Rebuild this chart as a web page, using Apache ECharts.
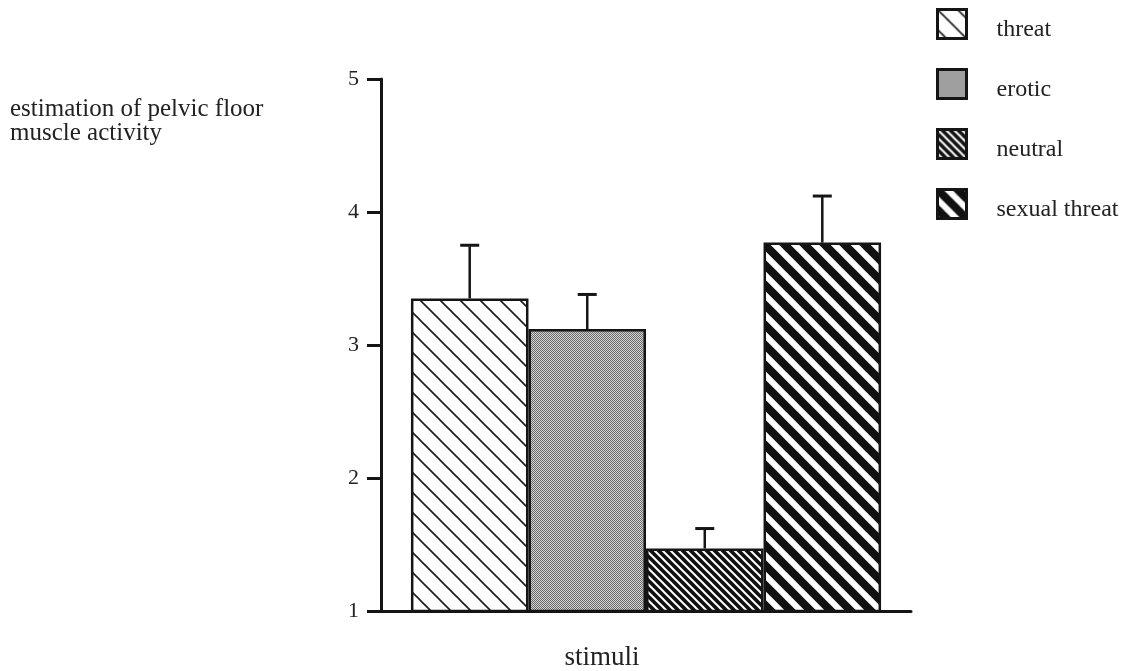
<!DOCTYPE html>
<html>
<head>
<meta charset="utf-8">
<script src="https://cdn.jsdelivr.net/npm/echarts@6/dist/echarts.min.js"></script>
<style>
html,body{margin:0;padding:0;background:#fff;}
#chart{width:1142px;height:671px;}
</style>
</head>
<body>
<div id="chart"></div>
<script>
// ---- data ----
const categories = ['stimuli'];
const seriesNames = ['threat', 'erotic', 'neutral', 'sexual threat'];
const means = [3.35, 3.12, 1.47, 3.77];
const upper = [3.75, 3.38, 1.62, 4.12];
const yTicks = [1, 2, 3, 4, 5];
const yAxisTitle = 'estimation of pelvic floor\nmuscle activity';
const xAxisTitle = 'stimuli';

// ---- patterns ----
function diagTile(size, bg, fg, lw) {
  const c = document.createElement('canvas');
  c.width = size; c.height = size;
  const g = c.getContext('2d');
  g.fillStyle = bg; g.fillRect(0, 0, size, size);
  g.strokeStyle = fg; g.lineWidth = lw; g.lineCap = 'square';
  for (let k = -size; k <= size; k += size) {
    g.beginPath(); g.moveTo(k - 2, -2); g.lineTo(k + size + 2, size + 2); g.stroke();
  }
  return c;
}
function stippleTile() {
  const c = document.createElement('canvas');
  c.width = 2; c.height = 2;
  const g = c.getContext('2d');
  g.fillStyle = '#d4d4d4'; g.fillRect(0, 0, 2, 2);
  g.fillStyle = '#6a6a6a'; g.fillRect(0, 0, 1, 1); g.fillRect(1, 1, 1, 1);
  return c;
}
const patterns = [
  { image: diagTile(20, '#ffffff', '#1a1a1a', 1.6), repeat: 'repeat' },
  { image: stippleTile(), repeat: 'repeat' },
  { image: diagTile(8, '#111111', '#ffffff', 2.0), repeat: 'repeat' },
  { image: diagTile(20, '#ffffff', '#111111', 8), repeat: 'repeat' }
];

const GAP = 0.113; // category gap fraction
const FONT = 'Liberation Serif, Times New Roman, serif';

const chart = echarts.init(document.getElementById('chart'));

const barSeries = seriesNames.map((name, i) => ({
  name: name,
  type: 'bar',
  barGap: '0%',
  barCategoryGap: (GAP * 100) + '%',
  data: [means[i]],
  itemStyle: { color: patterns[i], borderColor: '#151515', borderWidth: 2.5 },
  emphasis: { disabled: true },
  z: 2
}));

const errSeries = seriesNames.map((name, i) => ({
  name: name + ' error',
  type: 'custom',
  data: [[0, means[i], upper[i]]],
  z: 3,
  renderItem: function (params, api) {
    const band = api.size([1, 0])[0];
    const bw = band * (1 - GAP) / seriesNames.length;
    const c0 = api.coord([api.value(0), api.value(1)]);
    const c1 = api.coord([api.value(0), api.value(2)]);
    const x = c0[0] - band * (1 - GAP) / 2 + bw * (i + 0.5);
    const half = 9.5;
    return {
      type: 'group',
      children: [
        { type: 'line', shape: { x1: x, y1: c0[1], x2: x, y2: c1[1] + 1 },
          style: { stroke: '#151515', lineWidth: 2.5 } },
        { type: 'line', shape: { x1: x - half, y1: c1[1], x2: x + half, y2: c1[1] },
          style: { stroke: '#151515', lineWidth: 3 } }
      ]
    };
  }
}));

chart.setOption({
  animation: false,
  backgroundColor: '#ffffff',
  title: {
    text: yAxisTitle,
    left: 10, top: 97, padding: 0,
    textStyle: { fontFamily: FONT, fontSize: 25, fontWeight: 'normal', color: '#222', lineHeight: 24 }
  },
  legend: {
    data: seriesNames,
    orient: 'vertical',
    left: 936, top: 6, padding: 0,
    itemWidth: 29, itemHeight: 29, itemGap: 24,
    icon: 'rect',
    itemStyle: { borderColor: '#151515', borderWidth: 3 },
    formatter: function (name) { return '{s| }\n{n|' + name + '}'; },
    textStyle: {
      fontFamily: FONT, fontSize: 24, color: '#222', padding: [0, 0, 0, 25],
      rich: {
        s: { fontSize: 10, lineHeight: 12, height: 12 },
        n: { fontFamily: FONT, fontSize: 24, color: '#222', lineHeight: 24 }
      }
    },
    selectedMode: false
  },
  grid: { left: 381, right: 231, top: 79, bottom: 60, containLabel: false, outerBoundsMode: 'none' },
  xAxis: {
    type: 'category',
    data: categories,
    name: xAxisTitle,
    nameLocation: 'middle',
    nameGap: 33,
    nameTextStyle: { fontFamily: FONT, fontSize: 27, color: '#222', padding: [0, 88, 0, 0] },
    axisLine: { lineStyle: { color: '#151515', width: 3 } },
    axisTick: { show: false },
    axisLabel: { show: false },
    splitLine: { show: false }
  },
  yAxis: {
    type: 'value',
    min: yTicks[0], max: yTicks[yTicks.length - 1], interval: 1,
    axisLine: { show: true, lineStyle: { color: '#151515', width: 3 } },
    axisTick: { show: true, length: 14, lineStyle: { color: '#151515', width: 3 } },
    axisLabel: { margin: 22, fontFamily: FONT, fontSize: 22, color: '#222' },
    splitLine: { show: false }
  },
  series: barSeries.concat(errSeries)
});
</script>
</body>
</html>
